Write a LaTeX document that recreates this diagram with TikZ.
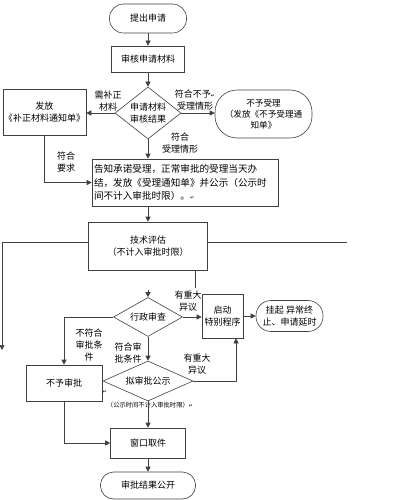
\documentclass[tikz,border=0pt]{standalone}
\usepackage{fontspec}
\setmainfont{Noto Sans CJK SC}
\newfontfamily\retfont{DejaVu Sans}
\usetikzlibrary{arrows.meta,shapes.geometric,positioning}
\newcommand{\ret}{{\retfont\fontsize{5}{5}\selectfont ↵}}

\begin{document}
\begin{tikzpicture}[x=1pt,y=-1pt,line width=.6pt,
  every node/.style={inner sep=0pt,align=center,font=\fontsize{9}{12}\selectfont},
  box/.style={draw=black!75,rectangle},
  term/.style={draw=black!75,rectangle,rounded corners=#1},
  dia/.style={draw=black!75,diamond,aspect=#1},
  flow/.style={draw=black!75,-{Triangle[length=5pt,width=5pt]}},
  link/.style={draw=black!75}]
\useasboundingbox (0,0) rectangle (409,500);

\node[term=14pt,minimum width=77pt,minimum height=29pt] (start) at (148,18.5) {提出申请};
\node[box,minimum width=73pt,minimum height=26pt] (check) at (148,59) {审核申请材料};
\node[dia=1.27,minimum width=66pt,minimum height=52pt] (d1) at (148,113) {申请材料\\审核结果};
\node[box,minimum width=83pt,minimum height=46pt] (supp) at (44.5,112) {发放\\《补正材料通知单》};
\node[term=22pt,minimum width=97pt,minimum height=48pt,font=\fontsize{8.6}{11}\selectfont] (reject) at (263.5,114) {不予受理\\（发放《不予受理通\\知单》};
\node[box,minimum width=186pt,minimum height=47pt,text width=182pt,inner xsep=2pt,align=left,font=\fontsize{9.6}{13.5}\selectfont] (accept) at (185,182.5) {告知承诺受理，正常审批的受理当天办\\结，发放《受理通知单》并公示（公示时\\间不计入审批时限）。\ret};
\node[box,minimum width=119pt,minimum height=48pt,font=\fontsize{9}{11.5}\selectfont] (tech) at (148,246) {技术评估\\（不计入审批时限）};
\node[dia=1.77,minimum width=69pt,minimum height=39pt] (d2) at (148,317) {行政审查};
\node[box,minimum width=41pt,minimum height=44pt] (special) at (222.5,316) {启动\\特别程序};
\node[term=15pt,minimum width=67pt,minimum height=31pt,font=\fontsize{9}{11.5}\selectfont] (suspend) at (289.5,316) {挂起 异常终\\止、申请延时};
\node[box,minimum width=76pt,minimum height=36pt] (noapp) at (64,383) {不予审批};
\node[dia=2.25,minimum width=90pt,minimum height=40pt] (d3) at (148,381) {拟审批公示};
\node[box,minimum width=75pt,minimum height=30pt] (pickup) at (148,443) {窗口取件};
\node[term=13pt,minimum width=95pt,minimum height=27pt] (publish) at (148,485.5) {审批结果公开};

\node (lneed) at (108,101) {需补正\\材料};
\node (lnot) at (195,100) {符合不予\ret\\受理情形};
\node (lok) at (180,143) {符合\\受理情形};
\node (lreq) at (66,162) {符合\\要求};
\node (lobj) at (188,301) {有重大\\异议};
\node (lfail) at (89,345) {不符合\\审批条\\件};
\node (lpass) at (128,353) {符合审\\批条件};
\node (lobj2) at (197,364) {有重大\\异议};
\node[font=\fontsize{6.3}{7}\selectfont] (lnote) at (150,405) {（公示时间不计入审批时限）\ret};
\node (lmark) at (105,392) {\ret};

\coordinate (lft) at (2,242); \coordinate (lftend) at (2,350);
\coordinate (rgt) at (347,242); \coordinate (tap) at (195,288);
\coordinate (din) at (148,290); \coordinate (up) at (236,381);

\draw[flow] (start) -- (check);
\draw[flow] (check) -- (d1);
\draw[flow] (d1.west) -- (supp.east |- d1.west);
\draw[flow] (d1.east) -- (reject.west |- d1.east);
\draw[flow] (d1.south) -- (d1.south |- accept.north);
\draw[flow] (supp.south) |- (accept.west);
\draw[flow] (tech.north |- accept.south) -- (tech.north);
\draw[flow] (tech.west |- lft) -- (lft) -- (lftend);
\draw[link] (tech.east |- rgt) -- (rgt);
\draw[link] (tech.south -| tap) -- (tap);
\draw[flow] (din) -- (d2.north);
\draw[flow] (d2.east) -- (special.west |- d2.east);
\draw[flow] (special.east) -- (special.east -| suspend.west);
\draw[flow] (d2.west) -| (noapp.north);
\draw[flow] (d2.south) -- (d3.north);
\draw[flow] (d3.east) -- (up) -- (up |- special.south);
\draw[flow] (d3.south) -- (pickup.north);
\draw[flow] (noapp.south) |- (pickup.west);
\draw[flow] (pickup) -- (publish);
\end{tikzpicture}
\end{document}
